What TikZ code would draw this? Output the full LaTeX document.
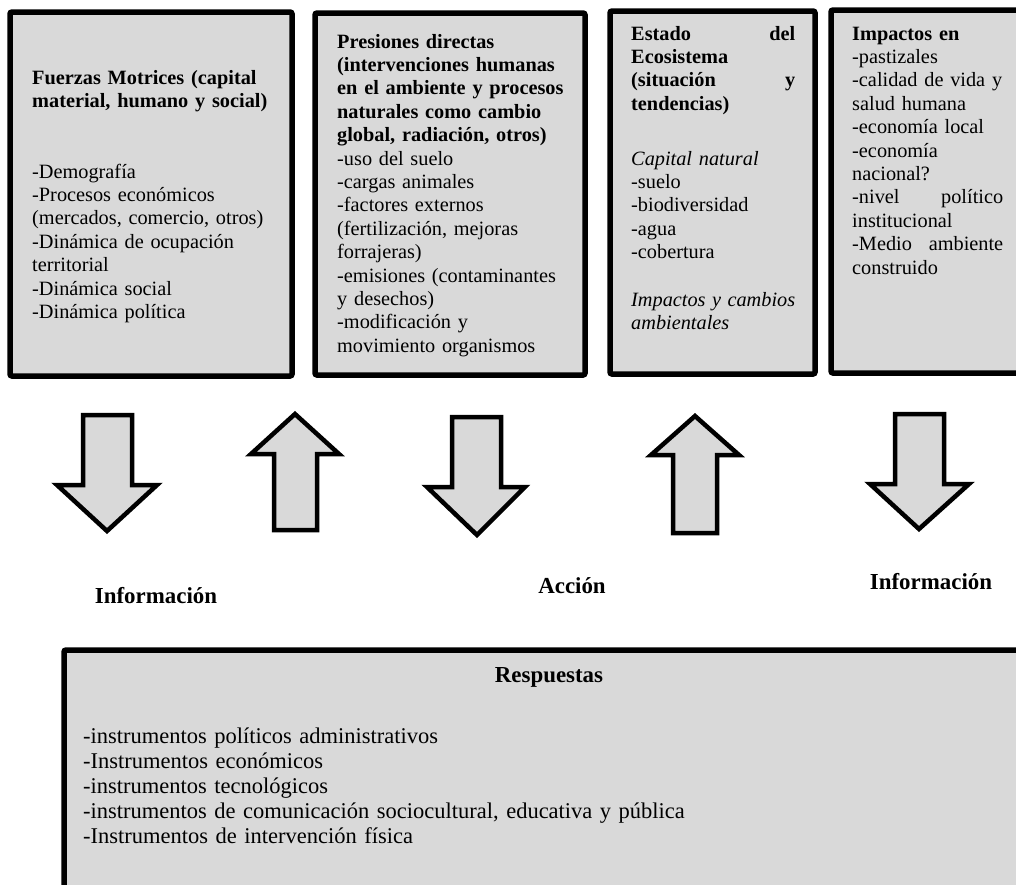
\documentclass[tikz,border=0pt]{standalone}
\usepackage{fontspec}
\setmainfont{Liberation Serif}
\definecolor{boxgray}{RGB}{217,217,217}
\tikzset{
  panel/.style={draw=black, line width=5.5pt, fill=boxgray, rounded corners=2pt},
  blockarrow/.style={draw=black, line width=4.5pt, fill=boxgray, line join=miter},
  boxtext/.style={anchor=base west, inner sep=0pt, align=left, font=\fontsize{20.3}{23.4}\selectfont},
  bigtext/.style={inner sep=0pt, font=\fontsize{22.9}{25}\selectfont},
  listtext/.style={inner sep=0pt, font=\fontsize{22.5}{25}\selectfont},
}
\begin{document}
\begin{tikzpicture}[x=1pt,y=-1pt]
\useasboundingbox (0,0) rectangle (1016,884);
\clip (0,0) rectangle (1016,884);

% panels
\draw[panel] (10,12) rectangle (292,376);
\draw[panel] (315,13) rectangle (585,375);
\draw[panel] (610,11) rectangle (815,374);
\draw[panel] (831,10) rectangle (1040,373);
\draw[panel] (64,650) rectangle (1045,910);

% box 1
\node[boxtext, text width=255pt] (fm) at (32,84)
  {\textbf{Fuerzas Motrices (capital}\\\textbf{material, humano y social)}};
\node[boxtext, text width=255pt] (fmlist) at (32,178)
  {-Demografía\\-Procesos económicos\\(mercados, comercio, otros)\\-Dinámica de ocupación\\territorial\\-Dinámica social\\-Dinámica política};

% box 2
\node[boxtext, text width=245pt] (pd) at (337,48)
  {\textbf{Presiones directas}\\\textbf{(intervenciones humanas}\\\textbf{en el ambiente y procesos}\\\textbf{naturales como cambio}\\\textbf{global, radiación, otros)}\\-uso del suelo\\-cargas animales\\-factores externos\\(fertilización, mejoras\\forrajeras)\\-emisiones (contaminantes\\y desechos)\\-modificación y\\movimiento organismos};

% box 3
\node[boxtext, text width=170pt] (ee) at (631,40)
  {\makebox[164pt][l]{\textbf{Estado}\hfill\textbf{del}}\\\textbf{Ecosistema}\\\makebox[164pt][l]{\textbf{(situación}\hfill\textbf{y}}\\\textbf{tendencias)}};
\node[boxtext, text width=170pt] (cn) at (631,165)
  {\textit{Capital natural}\\-suelo\\-biodiversidad\\-agua\\-cobertura};
\node[boxtext, text width=170pt] (ic) at (631,306)
  {\makebox[164pt][l]{\textit{Impactos}\hfill\textit{y}\hfill\textit{cambios}}\\\textit{ambientales}};

% box 4
\node[boxtext, text width=160pt] (im) at (852,40)
  {\textbf{Impactos en}\\-pastizales\\-calidad de vida y\\salud humana\\-economía local\\-economía\\nacional?\\\makebox[151pt][l]{-nivel\hfill político}\\institucional\\\makebox[151pt][l]{-Medio\hfill ambiente}\\construido};

% block arrows
\draw[blockarrow] (83,415) -- (132,415) -- (132,485) -- (157,485) -- (107,531) -- (57,485) -- (83,485) -- cycle;
\draw[blockarrow] (274,530) -- (317,530) -- (317,454) -- (339,454) -- (295,414) -- (251,454) -- (274,454) -- cycle;
\draw[blockarrow] (452,417) -- (501,417) -- (501,487) -- (525,487) -- (477,535) -- (427,487) -- (452,487) -- cycle;
\draw[blockarrow] (673,533) -- (717,533) -- (717,455) -- (739,455) -- (695,416) -- (651,455) -- (673,455) -- cycle;
\draw[blockarrow] (895,414) -- (944,414) -- (944,484) -- (969,484) -- (919,529) -- (870,484) -- (895,484) -- cycle;

% labels
\node[bigtext, anchor=base] (info1) at (156,603) {\textbf{Información}};
\node[bigtext, anchor=base] (accion) at (572,593) {\textbf{Acción}};
\node[bigtext, anchor=base] (info2) at (931,589) {\textbf{Información}};

% respuestas
\node[bigtext, anchor=base] (resp) at (549,682) {\textbf{Respuestas}};
\node[listtext, anchor=base west, align=left, text width=800pt] (resplist) at (83,743)
  {-instrumentos políticos administrativos\\-Instrumentos económicos\\-instrumentos tecnológicos\\-instrumentos de comunicación sociocultural, educativa y pública\\-Instrumentos de intervención física};
\end{tikzpicture}
\end{document}
